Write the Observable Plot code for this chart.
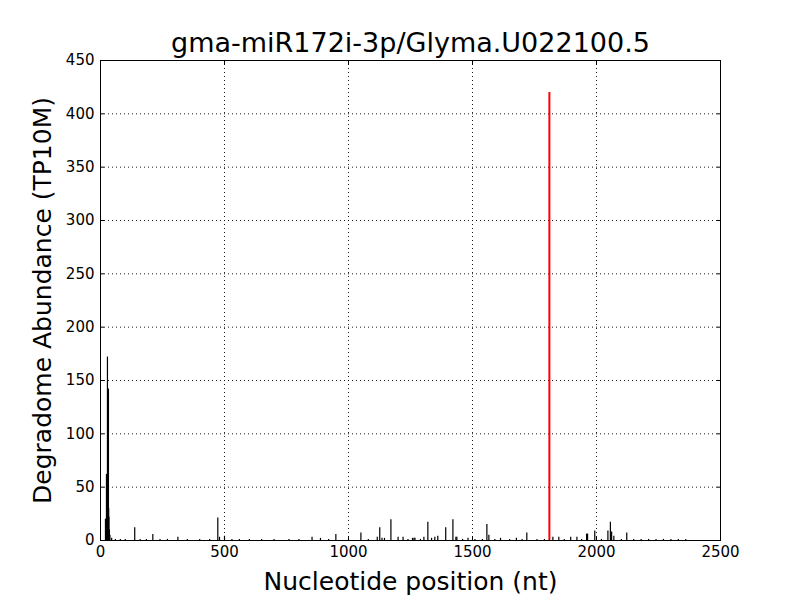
<!DOCTYPE html>
<html><head><meta charset="utf-8">
<script src="https://cdn.jsdelivr.net/npm/d3@7"></script>
<script src="https://cdn.jsdelivr.net/npm/@observablehq/plot@0.6"></script>
<style>body{margin:0;background:#fff;} #chart{width:800px;height:600px;}</style>
</head><body><div id="chart"></div>
<script>
const title = "gma-miR172i-3p/Glyma.U022100.5";
const xLabel = "Nucleotide position (nt)";
const yLabel = "Degradome Abundance (TP10M)";
const xTicks = [0, 500, 1000, 1500, 2000, 2500];
const yTicks = [0, 50, 100, 150, 200, 250, 300, 350, 400, 450];

const positions = [20,22,24,26,27,28,29,30,31,32,33,34,36,38,45,60,80,100,138,160,185,211,240,270,312,350,400,440,473,480,500,530,560,600,650,700,760,800,853,887,920,949,1000,1050,1080,1116,1126,1135,1145,1171,1200,1220,1240,1258,1264,1268,1290,1304,1320,1335,1348,1360,1392,1421,1433,1437,1460,1482,1510,1540,1558,1566,1590,1613,1650,1677,1700,1719,1760,1790,1824,1848,1870,1896,1921,1940,1960,1962,1964,1993,2020,2046,2056,2061,2070,2100,2122,2150,2180,2210,2240,2270,2300,2330,2360];
const values =    [20,8,62,50,30,172,40,25,60,142,30,22,10,5,2,1,1,1,12,1,1,5.6,1,1,3,1,1,1,21,3,4,1,1,1,1,1,1,1,3,2,1,5.6,1,7,1,3,12,2,2,19.4,3,3,1,2,2,2,1,3,17,2,3,4,12,19.4,3,3,1,2,1,1,15,5,1,2,1,2,1,7,1,1,3,3,1,3,3,1,6,5,6,9,1,9,17,8,4,1,7,1,1,1,1,1,1,1,1];
const cleavePos = [1810];
const cleaveVal = [420];

const spikes = positions.map((p, i) => ({pos: p, val: values[i]}));
const cleave = cleavePos.map((p, i) => ({pos: p, val: cleaveVal[i]}));

const font = "DejaVu Sans, sans-serif";
const plot = Plot.plot({
  width: 800, height: 600,
  marginLeft: 100, marginRight: 80, marginTop: 60, marginBottom: 60,
  style: {fontFamily: font, fontSize: "15px", color: "black", background: "white"},
  x: {domain: [0, 2500], ticks: xTicks},
  y: {domain: [0, 450], ticks: yTicks},
  marks: [
    Plot.gridX(xTicks.slice(1, -1), {stroke: "black", strokeOpacity: 0.9, strokeDasharray: "1,3"}),
    Plot.gridY(yTicks.slice(1, -1), {stroke: "black", strokeOpacity: 0.9, strokeDasharray: "1,3"}),
    Plot.ruleX(spikes, {x: "pos", y1: 0, y2: "val", stroke: "black", strokeWidth: 1.2}),
    Plot.ruleX(cleave, {x: "pos", y1: 0, y2: "val", stroke: "red", strokeWidth: 2}),
    Plot.axisX({ticks: xTicks, tickSize: -4, tickPadding: 10, fontSize: 15, label: null, tickFormat: d => String(d)}),
    Plot.axisX({ticks: xTicks, anchor: "top", tickSize: -4, tickFormat: () => "", label: null}),
    Plot.axisY({ticks: yTicks, tickSize: -4, tickPadding: 10, fontSize: 15, label: null, tickFormat: d => String(d)}),
    Plot.axisY({ticks: yTicks, anchor: "right", tickSize: -4, tickFormat: () => "", label: null}),
    Plot.frame({stroke: "black", strokeWidth: 1}),
    Plot.text([title], {frameAnchor: "top", textAnchor: "middle", lineAnchor: "middle", dy: -17, text: d => d, fontSize: 27, fill: "black"}),
    Plot.text([xLabel], {frameAnchor: "bottom", textAnchor: "middle", lineAnchor: "middle", dy: 41, text: d => d, fontSize: 25, fill: "black"}),
    Plot.text([yLabel], {frameAnchor: "left", textAnchor: "middle", lineAnchor: "middle", dx: -58, rotate: -90, text: d => d, fontSize: 25, fill: "black"})
  ]
});
document.getElementById("chart").appendChild(plot);
</script>
</body></html>
